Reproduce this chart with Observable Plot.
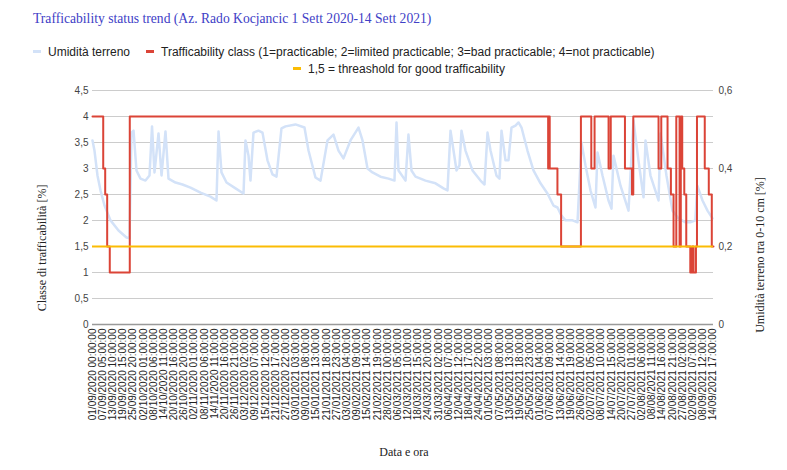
<!DOCTYPE html>
<html><head><meta charset="utf-8">
<script src="https://cdn.jsdelivr.net/npm/d3@7"></script>
<script src="https://cdn.jsdelivr.net/npm/@observablehq/plot@0.6"></script>
<style>
body{margin:0;background:#fff;width:787px;height:470px;overflow:hidden;font-family:"Liberation Sans",Arial,sans-serif}
#head{position:relative;height:80px}
.title{position:absolute;left:33px;top:11px;font:13.6px "Liberation Serif","Times New Roman",serif;color:#4040c6;white-space:nowrap}
.leg{position:absolute;font-size:12px;line-height:14px;color:#222;white-space:nowrap}
.sw{display:inline-block;width:8px;height:3px;vertical-align:middle;margin-right:7px;position:relative;top:-1px}
</style></head><body>
<div id="head">
  <div class="title">Trafficability status trend (Az. Rado Kocjancic 1 Sett 2020-14 Sett 2021)</div>
  <div class="leg" style="left:33px;top:45px"><span class="sw" style="background:#d3e2f8"></span>Umidità terreno</div>
  <div class="leg" style="left:146px;top:45px"><span class="sw" style="background:#db4437"></span>Trafficability class (1=practicable; 2=limited practicable; 3=bad practicable; 4=not practicable)</div>
  <div class="leg" style="left:293px;top:62px"><span class="sw" style="background:#fbbc04"></span>1,5 = threashold for good trafficability</div>
</div>
<div id="chart"></div>
<script>
// X tick labels (every 149 hourly records)
const xTickLabels = [
"01/09/2020 00:00:00","07/09/2020 05:00:00","13/09/2020 10:00:00","19/09/2020 15:00:00","25/09/2020 20:00:00",
"02/10/2020 01:00:00","08/10/2020 06:00:00","14/10/2020 11:00:00","20/10/2020 16:00:00","26/10/2020 20:00:00",
"02/11/2020 01:00:00","08/11/2020 06:00:00","14/11/2020 11:00:00","20/11/2020 16:00:00","26/11/2020 21:00:00",
"03/12/2020 02:00:00","09/12/2020 07:00:00","15/12/2020 12:00:00","21/12/2020 17:00:00","27/12/2020 22:00:00",
"03/01/2021 03:00:00","09/01/2021 08:00:00","15/01/2021 13:00:00","21/01/2021 18:00:00","27/01/2021 23:00:00",
"03/02/2021 04:00:00","09/02/2021 09:00:00","15/02/2021 14:00:00","21/02/2021 19:00:00","28/02/2021 00:00:00",
"06/03/2021 05:00:00","12/03/2021 10:00:00","18/03/2021 15:00:00","24/03/2021 20:00:00","31/03/2021 02:00:00",
"06/04/2021 07:00:00","12/04/2021 12:00:00","18/04/2021 17:00:00","24/04/2021 22:00:00","01/05/2021 03:00:00",
"07/05/2021 08:00:00","13/05/2021 13:00:00","19/05/2021 18:00:00","25/05/2021 23:00:00","01/06/2021 04:00:00",
"07/06/2021 09:00:00","13/06/2021 14:00:00","19/06/2021 19:00:00","26/06/2021 00:00:00","02/07/2021 05:00:00",
"08/07/2021 10:00:00","14/07/2021 15:00:00","20/07/2021 20:00:00","27/07/2021 01:00:00","02/08/2021 06:00:00",
"08/08/2021 11:00:00","14/08/2021 16:00:00","20/08/2021 21:00:00","27/08/2021 02:00:00","02/09/2021 07:00:00",
"08/09/2021 12:00:00","14/09/2021 17:00:00"];
const tickStepHours = 149;
const totalHours = 9096;

// Trafficability class (step changes: hour index from start, class value)
const classHours = [0,157,186,215,253,546,6674,6684,6697,6810,6864,7154,7306,7354,7559,7591,7799,7902,7921,8291,8331,8423,8472,8511,8551,8599,8617,8638,8668,8697,8756,8785,8804,8839,8854,8968,9027,9071,9096];
const classValues = [4,3,2.5,1.5,1,4,3,4,3,2.5,1.5,4,3,4,3,4,3,2.5,4,3,4,3,2.5,1.5,4,1.5,4,3,2.5,1.5,1,1.5,1,1.5,4,3,2.5,1.5,1.5];

// Soil moisture 0-10 cm (hour index, value)
const moistHours = [0,29,73,117,176,264,381,498,542,571,601,644,703,776,835,872,908,967,1011,1069,1113,1216,1318,1435,1582,1728,1816,1846,1889,1963,2095,2212,2241,2285,2314,2358,2431,2490,2563,2636,2695,2768,2827,2973,3105,3164,3266,3340,3442,3530,3603,3676,3779,3896,3955,4028,4101,4218,4336,4423,4453,4482,4585,4628,4672,4731,4877,5024,5141,5200,5244,5288,5332,5375,5405,5463,5566,5683,5742,5786,5830,5917,5961,5991,6049,6093,6137,6196,6240,6284,6371,6459,6562,6664,6752,6811,6869,6928,7031,7104,7162,7221,7294,7367,7397,7470,7558,7602,7631,7734,7851,7924,7997,8071,8100,8173,8291,8320,8407,8495,8583,8686,8756,8830,8859,8935,9008,9081];
const moistValues = [0.472,0.446,0.382,0.344,0.305,0.267,0.241,0.223,0.221,0.492,0.497,0.395,0.374,0.369,0.382,0.508,0.390,0.490,0.382,0.495,0.374,0.364,0.359,0.351,0.338,0.328,0.318,0.495,0.390,0.364,0.349,0.336,0.472,0.433,0.369,0.492,0.497,0.492,0.421,0.385,0.379,0.503,0.508,0.513,0.505,0.446,0.377,0.369,0.472,0.487,0.446,0.426,0.472,0.505,0.472,0.400,0.390,0.379,0.374,0.369,0.518,0.395,0.369,0.487,0.395,0.379,0.369,0.362,0.349,0.344,0.497,0.446,0.395,0.408,0.497,0.446,0.395,0.369,0.359,0.492,0.446,0.382,0.374,0.497,0.421,0.421,0.505,0.510,0.518,0.505,0.446,0.395,0.362,0.336,0.305,0.300,0.279,0.267,0.267,0.262,0.467,0.408,0.344,0.300,0.441,0.382,0.318,0.297,0.433,0.356,0.292,0.523,0.421,0.326,0.472,0.382,0.318,0.490,0.382,0.292,0.272,0.262,0.262,0.267,0.356,0.318,0.292,0.272];

const threshold = 1.5;
const classTicks = [0,0.5,1,1.5,2,2.5,3,3.5,4,4.5];
const moistTicks = [0,0.2,0.4,0.6];
const classMax = 4.5, moistMax = 0.6;
const ratio = classMax / moistMax;

const classData = classHours.map((h,i)=>({h, v: classValues[i]}));
const moistData = moistHours.map((h,i)=>({h, m: moistValues[i]}));
const tickHours = xTickLabels.map((_,i)=>i*tickStepHours);
const labelMap = new Map(tickHours.map((h,i)=>[h, xTickLabels[i]]));
const comma = d => String(d).replace(".", ",");
const moistLabel = new Map(moistTicks.map(t=>[t*ratio, t]));
const rightTicks = moistTicks.map(t=>t*ratio);

const W = 787, H = 390;
const chart = Plot.plot({
  width: W, height: H,
  marginTop: 10, marginBottom: 146, marginLeft: 92, marginRight: 74,
  style: {fontFamily: '"Liberation Sans", Arial, sans-serif', fontSize: "10px", color: "#333", background: "#fff"},
  x: {domain: [0, totalHours]},
  y: {domain: [0, classMax]},
  marks: [
    Plot.gridY(classTicks.filter(d=>d>0), {stroke: "#cccccc", strokeOpacity: 1}),
    Plot.axisY({ticks: classTicks, tickFormat: comma, tickSize: 0, tickPadding: 4, label: null, fill: "#444"}),
    Plot.axisY({anchor: "right", ticks: rightTicks, tickFormat: d => comma(moistLabel.get(d) ?? (d/ratio)), tickSize: 0, tickPadding: 5, label: null, fill: "#444"}),
    Plot.axisX({ticks: tickHours, tickFormat: h => labelMap.get(h), tickRotate: -90, tickSize: 0, tickPadding: 4, label: null, fill: "#222"}),
    Plot.line(moistData, {x: "h", y: d => d.m * ratio, stroke: "#d3e2f8", strokeWidth: 2.5, strokeLinejoin: "round"}),
    Plot.line(classData, {x: "h", y: "v", curve: "step-after", stroke: "#db4437", strokeWidth: 2}),
    Plot.ruleY([threshold], {stroke: "#fbbc04", strokeWidth: 2}),
    Plot.ruleY([0], {stroke: "#999", strokeWidth: 1.5})
  ]
});
document.getElementById("chart").appendChild(chart);

const svg = d3.select(chart);
const serif = '"Liberation Serif","Times New Roman",serif';
svg.append("text").attr("transform", "translate(42,168) rotate(-90)")
  .attr("text-anchor","middle").attr("dy","0.35em").attr("font-family", serif).attr("font-size", 12).attr("fill","#222")
  .text("Classe di trafficabilità [%]");
svg.append("text").attr("transform", "translate(760,175) rotate(-90)")
  .attr("text-anchor","middle").attr("dy","0.35em").attr("font-family", serif).attr("font-size", 12).attr("fill","#222")
  .text("Umidità terreno tra 0-10 cm [%]");
svg.append("text").attr("x", 404).attr("y", 372)
  .attr("text-anchor","middle").attr("dy","0.35em").attr("font-family", serif).attr("font-size", 12).attr("fill","#222")
  .text("Data e ora");
</script>
</body></html>
